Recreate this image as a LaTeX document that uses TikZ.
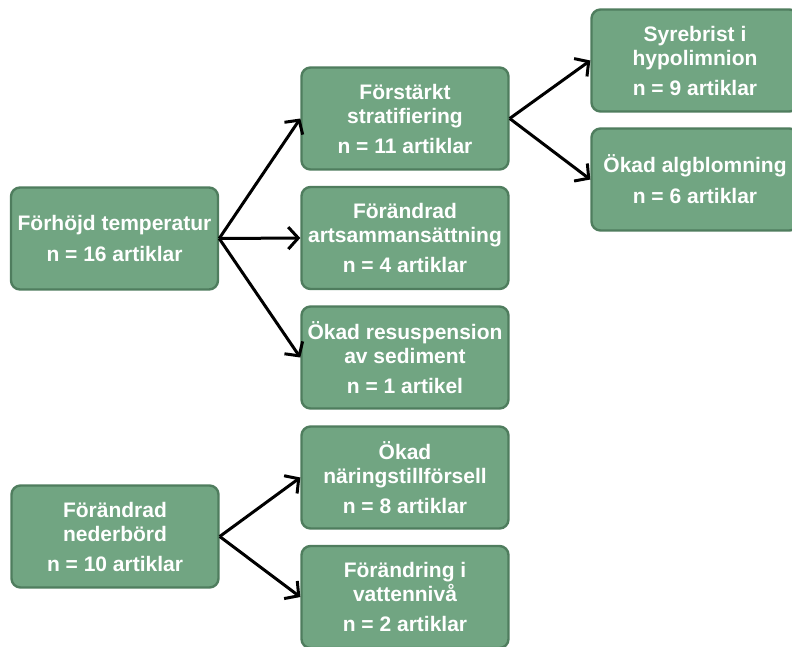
\documentclass[tikz,border=0pt]{standalone}
\usepackage{fontspec}
\setmainfont{Liberation Sans}
\usetikzlibrary{arrows.meta}
\definecolor{boxfill}{HTML}{71A582}
\definecolor{boxline}{HTML}{4F7D5E}
\tikzset{
  box/.style={draw=boxline, line width=2.4pt, fill=boxfill, rounded corners=9pt,
    minimum width=207pt, minimum height=102pt, inner sep=0pt, align=center,
    text=white, font=\fontsize{21pt}{24pt}\selectfont\bfseries},
  conn/.style={line width=3pt, -{Straight Barb[length=10pt,width=22pt,line width=3pt]}}
}
\begin{document}
\begin{tikzpicture}[x=1pt,y=-1pt]
\useasboundingbox (0,0) rectangle (792,646);
\clip (0,0) rectangle (792,646);
\node[box] (a) at (114.5,238.5) {Förhöjd temperatur\\[7pt]n = 16 artiklar};
\node[box] (b) at (405,118.5) {Förstärkt\\stratifiering\\[6pt]n = 11 artiklar};
\node[box] (c) at (405,238) {Förändrad\\artsammansättning\\[6pt]n = 4 artiklar};
\node[box] (d) at (405,357.5) {Ökad resuspension\\av sediment\\[6pt]n = 1 artikel};
\node[box] (e) at (695,60.5) {Syrebrist i\\hypolimnion\\[6pt]n = 9 artiklar};
\node[box] (f) at (695,179.5) {Ökad algblomning\\[7pt]n = 6 artiklar};
\node[box] (g) at (115,536.5) {Förändrad\\nederbörd\\[6pt]n = 10 artiklar};
\node[box] (h) at (405,477.5) {Ökad\\näringstillförsell\\[6pt]n = 8 artiklar};
\node[box] (i) at (405,597) {Förändring i\\vattennivå\\[6pt]n = 2 artiklar};
\draw[conn] (a.east) -- (b.west);
\draw[conn] (a.east) -- (c.west);
\draw[conn] (a.east) -- (d.west);
\draw[conn] (b.east) -- (e.west);
\draw[conn] (b.east) -- (f.west);
\draw[conn] (g.east) -- (h.west);
\draw[conn] (g.east) -- (i.west);
\end{tikzpicture}
\end{document}
